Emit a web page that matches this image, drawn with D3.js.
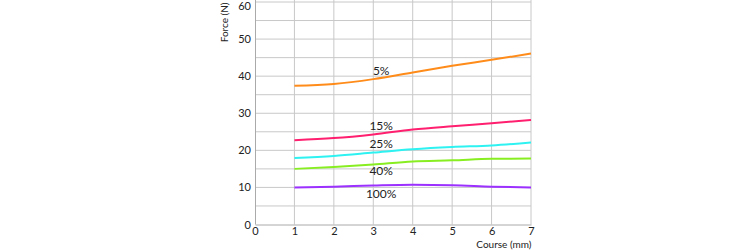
<!DOCTYPE html>
<html>
<head>
<meta charset="utf-8">
<script src="https://cdn.jsdelivr.net/npm/d3@7"></script>
<style>
  body { margin: 0; background: #fff; }
  text { font-family: Lato, "Open Sans", sans-serif; }
</style>
</head>
<body>
<div id="chart"></div>
<script>
// course positions (mm)
const course = [1, 2, 3, 4, 5, 6, 7];

const series = ["5%", "15%", "25%", "40%", "100%"];
const force5 = [37.4, 37.9, 39.2, 41.0, 42.8, 44.4, 46.1];
const force15 = [22.7, 23.3, 24.3, 25.6, 26.5, 27.3, 28.2];
const force25 = [17.9, 18.5, 19.4, 20.3, 20.9, 21.3, 22.1];
const force40 = [15.0, 15.5, 16.2, 17.0, 17.3, 17.7, 17.8];
const force100 = [10.0, 10.2, 10.5, 10.7, 10.6, 10.2, 10.0];
const colors = ["#ff8c1a", "#ff1f6e", "#2ef2f2", "#88ee22", "#9b30ff"];

// where the percentage labels sit (data units)
const labelX = 3.2;
const labelY = [40.4, 25.4, 20.5, 13.3, 7.2];

const xTicks = [0, 1, 2, 3, 4, 5, 6, 7];
const yTicks = [0, 10, 20, 30, 40, 50, 60];

const W = 750, H = 250;
const margin = {top: 2, right: 219, bottom: 25.5, left: 255};
const width = W - margin.left - margin.right,
      height = H - margin.top - margin.bottom;

const svg = d3.select('#chart').append('svg')
  .attr('width', W)
  .attr('height', H)
  .append('g')
  .attr('transform', `translate(${margin.left}, ${margin.top})`);

const xScale = d3.scaleLinear().domain([0, 7]).range([0, width]);
const yScale = d3.scaleLinear().domain([0, 60]).range([height, 0]);

// grid
svg.append('g')
  .selectAll('line')
  .data(d3.range(5, 61, 5))
  .join('line')
  .attr('x1', 0).attr('x2', width)
  .attr('y1', d => yScale(d)).attr('y2', d => yScale(d))
  .attr('stroke', '#c8c8c8').attr('stroke-width', 1);

svg.append('g')
  .selectAll('line')
  .data(course)
  .join('line')
  .attr('x1', d => xScale(d)).attr('x2', d => xScale(d))
  .attr('y1', -margin.top).attr('y2', height)
  .attr('stroke', '#c8c8c8').attr('stroke-width', 1);

// axes
const xAxis = d3.axisBottom(xScale).tickValues(xTicks).tickFormat(d3.format('d')).tickSize(0).tickPadding(3);
const yAxis = d3.axisLeft(yScale).tickValues(yTicks).tickFormat(d3.format('d')).tickSize(0).tickPadding(4);

const xg = svg.append('g').attr('transform', `translate(0, ${height})`).call(xAxis);
const yg = svg.append('g').call(yAxis);
[xg, yg].forEach(g => {
  g.select('.domain').attr('stroke', '#aaa').attr('stroke-width', 1);
  g.selectAll('text').attr('fill', '#222').style('font-size', '11px');
});
yg.select('.domain').attr('d', `M0.5,${height}V${-margin.top}`);
// keep the top label inside the picture
yg.selectAll('.tick').filter(d => d === 60).select('text').attr('dy', '0.32em').attr('y', 4);

svg.append('text')
  .attr('transform', `translate(-27, ${yScale(54.5)}) rotate(-90)`)
  .attr('text-anchor', 'middle')
  .style('font-size', '10px')
  .attr('fill', '#222')
  .text('Force (N)');

svg.append('text')
  .attr('x', width + 0.5)
  .attr('y', height + 23.5)
  .attr('text-anchor', 'end')
  .style('font-size', '10px')
  .attr('fill', '#222')
  .text('Course (mm)');

// lines
const allForces = [force5, force15, force25, force40, force100];
const line = d3.line()
  .x((d, i) => xScale(course[i]))
  .y(d => yScale(d))
  .curve(d3.curveMonotoneX);

svg.selectAll('.series')
  .data(allForces)
  .join('path')
  .attr('class', 'series')
  .attr('d', d => line(d))
  .attr('fill', 'none')
  .attr('stroke', (d, i) => colors[i])
  .attr('stroke-width', 2);

svg.selectAll('.lbl')
  .data(series)
  .join('text')
  .attr('class', 'lbl')
  .attr('x', xScale(labelX))
  .attr('y', (d, i) => yScale(labelY[i]))
  .attr('text-anchor', 'middle')
  .style('font-size', '12px')
  .attr('fill', '#222')
  .text(d => d);
</script>
</body>
</html>
